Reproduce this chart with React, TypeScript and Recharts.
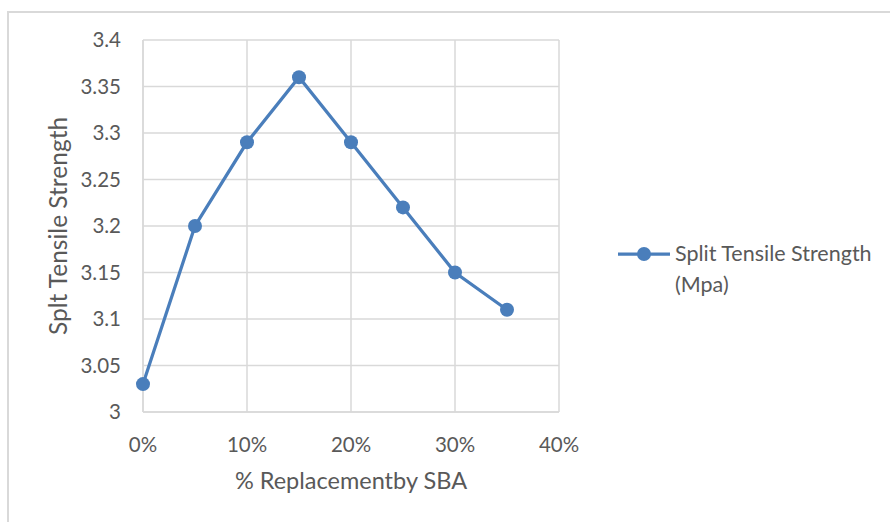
import { LineChart, Line, XAxis, YAxis, CartesianGrid, Legend, Label } from 'recharts';

const replacement = [0, 0.05, 0.1, 0.15, 0.2, 0.25, 0.3, 0.35];
const strength = [3.03, 3.2, 3.29, 3.36, 3.29, 3.22, 3.15, 3.11];
const xTicks = [0, 0.1, 0.2, 0.3, 0.4];
const yTicks = [3, 3.05, 3.1, 3.15, 3.2, 3.25, 3.3, 3.35, 3.4];

const SERIES = 'Split Tensile Strength (Mpa)';
const LINE_COLOR = '#4a7ebb';
const TEXT_COLOR = '#595959';
const GRID_COLOR = '#d9d9d9';
const FONT = 'Lato, "Open Sans", sans-serif';

const data = replacement.map((x, i) => ({ x, value: strength[i] }));

// two-line legend entry with the line + marker swatch
const LegendContent = () => (
  <div style={{ position: 'relative', width: 270, height: 70, fontFamily: FONT, color: TEXT_COLOR, fontSize: 21.5 }}>
    <svg width={60} height={20} style={{ position: 'absolute', left: 0, top: 4 }}>
      <line x1={0} y1={10} x2={52} y2={10} stroke={LINE_COLOR} strokeWidth={3.25} />
      <circle cx={26} cy={10} r={7} fill={LINE_COLOR} />
    </svg>
    <div style={{ position: 'absolute', left: 57, top: -2, lineHeight: '31px' }}>
      Split Tensile Strength
      <br />
      (Mpa)
    </div>
  </div>
);

export default function App() {
  return (
    <div style={{ position: 'absolute', left: 0, top: 0, width: 890, height: 522, background: '#fff', overflow: 'hidden' }}>
      <div
        style={{
          position: 'absolute',
          left: 7,
          top: 11,
          width: 900,
          height: 520,
          borderTop: `2px solid ${GRID_COLOR}`,
          borderLeft: `2px solid ${GRID_COLOR}`,
        }}
      />
      <div style={{ position: 'absolute', left: 0, top: 0 }}>
        <LineChart width={890} height={522} data={data} margin={{ top: 40, right: 331, bottom: 40, left: 0 }}>
          <CartesianGrid stroke={GRID_COLOR} strokeWidth={1.5} />
          <XAxis
            dataKey="x"
            type="number"
            domain={[0, 0.4]}
            ticks={xTicks}
            interval={0}
            tickFormatter={(v: number) => `${Math.round(v * 100)}%`}
            axisLine={{ stroke: GRID_COLOR, strokeWidth: 1.5 }}
            tickLine={false}
            tick={{ fill: TEXT_COLOR, fontSize: 20.5, fontFamily: FONT }}
            tickMargin={19}
            height={70}
          >
            <Label
              value="% Replacementby SBA"
              position="insideBottom"
              offset={0}
              dy={7}
              fill={TEXT_COLOR}
              fontSize={23.5}
              fontFamily={FONT}
            />
          </XAxis>
          <YAxis
            type="number"
            domain={[3, 3.4]}
            ticks={yTicks}
            interval={0}
            axisLine={{ stroke: GRID_COLOR, strokeWidth: 1.5 }}
            tickLine={false}
            tick={{ fill: TEXT_COLOR, fontSize: 20.5, fontFamily: FONT }}
            tickMargin={16}
            width={143}
          >
            <Label
              value="Splt Tensile Strength"
              angle={-90}
              position="insideLeft"
              offset={58}
              fill={TEXT_COLOR}
              fontSize={24.5}
              fontFamily={FONT}
              style={{ textAnchor: 'middle' }}
            />
          </YAxis>
          {/* centred/middle so the legend box does not eat into the plot margins */}
          <Legend
            layout="horizontal"
            verticalAlign="middle"
            align="center"
            content={<LegendContent />}
            wrapperStyle={{ left: 618, top: 240, width: 270 }}
          />
          <Line
            type="linear"
            dataKey="value"
            name={SERIES}
            stroke={LINE_COLOR}
            strokeWidth={3.25}
            dot={{ r: 7, fill: LINE_COLOR, stroke: LINE_COLOR, strokeWidth: 0 }}
            activeDot={false}
            isAnimationActive={false}
          />
        </LineChart>
      </div>
    </div>
  );
}
